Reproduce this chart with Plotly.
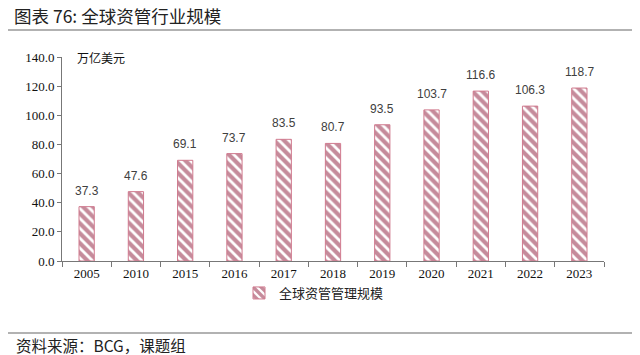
import plotly.graph_objects as go

years = ["2005", "2010", "2015", "2016", "2017", "2018", "2019", "2020", "2021", "2022", "2023"]
aum = [37.3, 47.6, 69.1, 73.7, 83.5, 80.7, 93.5, 103.7, 116.6, 106.3, 118.7]
series_name = "全球资管管理规模"
y_ticks = [0, 20, 40, 60, 80, 100, 120, 140]

L, R, T, B = 62, 36, 57, 94
W, H = 640, 355
pw, ph = W - L - R, H - T - B

def px(x):
    return (x - L) / pw

def py(y):
    return (H - B - y) / ph

fig = go.Figure()
fig.add_trace(go.Bar(
    x=years, y=aum, name=series_name,
    width=0.31,
    marker=dict(
        color="white",
        line=dict(color="#D07A8E", width=1),
        pattern=dict(shape="\\", fgcolor="#8C1838", bgcolor="white", size=7, solidity=0.6),
    ),
    showlegend=True,
))

label_annotations = [
    dict(x=i, y=v, xref="x", yref="y", text=f"{v:.1f}", showarrow=False,
         yanchor="bottom", yshift=7,
         font=dict(family="Liberation Sans", size=12, color="#404040"))
    for i, v in enumerate(aum)
]

fig.update_layout(
    width=W, height=H,
    margin=dict(l=L, r=R, t=T, b=B),
    paper_bgcolor="white", plot_bgcolor="white",
    showlegend=True,
    legend=dict(orientation="h", x=px(314), xanchor="center", y=py(293), yanchor="middle",
                font=dict(family="Noto Sans CJK SC", size=13, color="#222222"),
                itemwidth=30, bgcolor="rgba(0,0,0,0)"),
    xaxis=dict(
        type="category", categoryorder="array", categoryarray=years,
        range=[-0.5, len(years) - 0.5],
        showline=True, linecolor="#777777", linewidth=1,
        ticks="outside", tickson="boundaries", ticklen=5, tickcolor="#777777",
        tickfont=dict(family="Liberation Serif", size=13, color="#111111"),
        showgrid=False,
    ),
    yaxis=dict(
        range=[0, 140], tickvals=y_ticks, tickformat=".1f",
        showline=True, linecolor="#777777", linewidth=1,
        ticks="outside", ticklen=4, tickcolor="#777777",
        tickfont=dict(family="Liberation Serif", size=13, color="#111111"),
        showgrid=False, zeroline=False,
    ),
    shapes=[
        dict(type="line", xref="paper", yref="paper", x0=px(8), x1=px(632), y0=py(30), y1=py(30),
             line=dict(color="#999999", width=1.5)),
        dict(type="line", xref="paper", yref="paper", x0=px(8), x1=px(632), y0=py(333), y1=py(333),
             line=dict(color="#999999", width=1.5)),
    ],
    annotations=label_annotations + [
        dict(text="图表 76: 全球资管行业规模", xref="paper", yref="paper", x=px(12), y=py(15),
             xanchor="left", yanchor="middle", showarrow=False,
             font=dict(family="Noto Sans CJK SC", size=17.5, color="#222222")),
        dict(text="万亿美元", xref="paper", yref="paper", x=px(75), y=py(57),
             xanchor="left", yanchor="middle", showarrow=False,
             font=dict(family="Noto Sans CJK SC", size=12, color="#111111")),
        dict(text="资料来源：BCG，课题组", xref="paper", yref="paper", x=px(14), y=py(345),
             xanchor="left", yanchor="middle", showarrow=False,
             font=dict(family="Noto Sans CJK SC", size=15.5, color="#222222")),
    ],
)

fig.write_html("out.html", config={"displayModeBar": False},
               post_script="document.body.style.margin='0';document.body.style.overflow='hidden';")
